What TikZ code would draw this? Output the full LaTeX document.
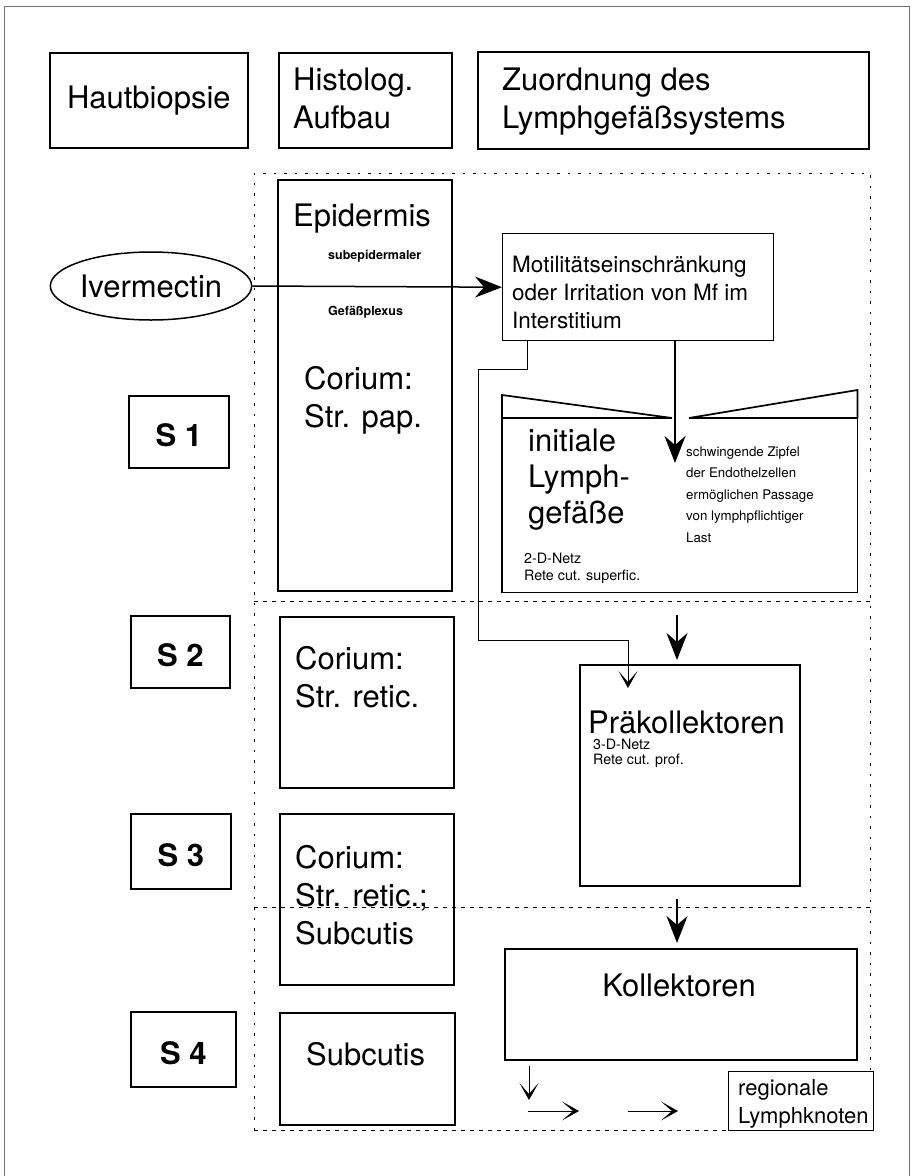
\documentclass[tikz,border=0pt]{standalone}
\usepackage{fontspec}
\setmainfont{TeX Gyre Heros}
\usetikzlibrary{shapes.geometric,positioning,calc,arrows.meta}
\newcommand{\fbig}{\fontsize{31}{38}\selectfont}
\newcommand{\fmid}{\fontsize{22.5}{28}\selectfont}
\newcommand{\fsma}{\fontsize{13.3}{21.4}\selectfont}
\newcommand{\ftin}{\fontsize{14.3}{16.5}\selectfont}
\newcommand{\fbol}{\bfseries\fontsize{12.5}{15}\selectfont}

\begin{document}
\begin{tikzpicture}[x=1pt, y=-1pt,
    box/.style={draw, line width=1.7pt, inner sep=0pt, anchor=north west},
    stage/.style={font=\bfseries\fontsize{31}{31}\selectfont, text height=30pt, text depth=0pt},
    txt/.style={anchor=base west, align=left, inner sep=0pt, font=\fbig},
    layer/.style={line width=0.8pt, dash pattern=on 2.5pt off 8pt},
    bound/.style={line width=0.8pt, dash pattern=on 4pt off 5pt},
    flow/.style={line width=2.2pt, -{Stealth[length=27pt, width=21pt, inset=9pt]}},
    feed/.style={line width=0.9pt, -{Stealth[length=17pt, width=19pt, inset=11pt]}}]

    \useasboundingbox (0,0) rectangle (912,1176);
    \draw[line width=1pt, black!55] (4,1176) |- (909,6) -- (909,1176);

    % column heads (multi-line texts sit on their last baseline)
    \node[box, font=\fbig, minimum width=198pt, minimum height=95pt] (haut) at (49,52) {Hautbiopsie};
    \node[box, minimum width=173pt, minimum height=95pt] (histo) at (278,52) {};
    \node[txt] (histotxt) at (293,128) {Histolog.\\Aufbau};
    \node[box, minimum width=391pt, minimum height=97pt] (zuord) at (477,51) {};
    \node[txt] (zuordtxt) at (502,128) {Zuordnung des\\Lymphgefäßsystems};

    % skin layers
    \draw[layer] (254,1130) -- (254,173) -- (870,173) -- (870,1071);
    \draw[bound] (254,601) -- (870,601);
    \draw[bound] (254,907) -- (870,907);
    \draw[bound] (254,1130) -- (728,1130);

    \node[draw, ellipse, line width=1.5pt, inner sep=0pt, minimum width=196pt, minimum height=68pt, font=\fbig] (iver) at (151,286) {Ivermectin};

    \node[box, stage, minimum width=100pt, minimum height=72pt] (s1) at (128,395) {S 1};
    \node[box, stage, minimum width=99pt, minimum height=72pt] (s2) at (130,615) {S 2};
    \node[box, stage, minimum width=100pt, minimum height=75pt] (s3) at (130,813) {S 3};
    \node[box, stage, minimum width=105pt, minimum height=75pt] (s4) at (130,1011) {S 4};

    \node[box, minimum width=174pt, minimum height=411pt] (epi) at (277,179) {};
    \node[txt] (epitxt) at (293,226) {Epidermis};
    \node[txt, font=\fbol] (subepi) at (328,259) {subepidermaler};
    \node[txt, font=\fbol] (plexus) at (328,315) {Gefäßplexus};
    \node[txt] (papil) at (304,427) {Corium:\\Str. pap.};

    \node[box, minimum width=174pt, minimum height=171pt] (retic) at (279,616) {};
    \node[txt] (retictxt) at (295,707) {Corium:\\Str. retic.};
    \node[box, minimum width=174pt, minimum height=171pt] (retsub) at (279,813) {};
    \node[txt] (retsubtxt) at (295,944) {Corium:\\Str. retic.;\\Subcutis};
    \node[box, minimum width=175pt, minimum height=112pt] (subc) at (279,1012) {};
    \node[txt] (subctxt) at (306,1065) {Subcutis};

    % lymph vessels
    \node[box, line width=1.4pt, minimum width=271pt, minimum height=107pt] (motil) at (502,233) {};
    \node[txt, font=\fmid] (motiltxt) at (512,328) {Motilitätseinschränkung\\oder Irritation von Mf im\\Interstitium};

    \node[inner sep=0pt, anchor=north west, minimum width=355pt, minimum height=174pt] (lymph) at (502,418) {};
    \coordinate (gapl) at (672,418);
    \coordinate (gapr) at (689,418);
    \draw[line width=1.7pt] (gapl) -- (lymph.north west) -- (lymph.south west) -- (lymph.south east) -- (lymph.north east) -- (gapr);
    \draw[line width=1.7pt] (lymph.north west) -- ++(0,-23) -- (gapl);
    \draw[line width=1.7pt] (gapr) -- ($(lymph.north east)+(0,-28)$) -- (lymph.north east);
    \node[txt, font=\fontsize{31}{36}\selectfont] (initial) at (528,523) {initiale\\Lymph-\\gefäße};
    \node[txt, font=\ftin] (netz2) at (524,580) {2-D-Netz\\Rete cut. superfic.};
    \node[txt, font=\fsma] (zipfel) at (686,542) {schwingende Zipfel\\der Endothelzellen\\ermöglichen Passage\\von lymphpflichtiger\\Last};

    \node[box, minimum width=220pt, minimum height=221pt] (prae) at (579,664) {};
    \node[txt] (praetxt) at (588,733) {Präkollektoren};
    \node[txt, font=\fontsize{14.3}{15}\selectfont] (netz3) at (593,764) {3-D-Netz\\Rete cut. prof.};

    \node[box, minimum width=352pt, minimum height=111pt] (koll) at (504,948) {};
    \node[anchor=base, inner sep=0pt, font=\fbig] (kolltxt) at (679,996) {Kollektoren};

    \node[box, line width=1.4pt, minimum width=145pt, minimum height=59pt] (region) at (728,1071) {};
    \node[txt, font=\fontsize{22}{28}\selectfont] (regiontxt) at (738,1123) {regionale\\Lymphknoten};

    % connectors
    \coordinate (zipfeltip) at (675,463);
    \coordinate (lane) at (677,0);
    \coordinate (leak) at (527,0);
    \coordinate (praein) at (628,688);
    \draw[flow, line width=1.5pt] (iver.east) -- (motil.west);
    \draw[flow] (motil.south -| zipfeltip) -- (zipfeltip);
    \draw[feed] (motil.south -| leak) |- (478,369) |- (628,640) -- (praein);
    \draw[flow, shorten <=23pt, shorten >=4pt] (lymph.south -| lane) -- (prae.north -| lane);
    \draw[flow, shorten <=12pt, shorten >=5pt] (prae.south -| lane) -- (koll.north -| lane);

    \coordinate (out1) at (529,1066);
    \coordinate (out2) at (529,1100);
    \coordinate (out3) at (528,1111);
    \coordinate (out4) at (579,1111);
    \coordinate (out5) at (628,1111);
    \coordinate (out6) at (678,1111);
    \draw[feed] (out1) -- (out2);
    \draw[feed] (out3) -- (out4);
    \draw[feed] (out5) -- (out6);
\end{tikzpicture}
\end{document}
